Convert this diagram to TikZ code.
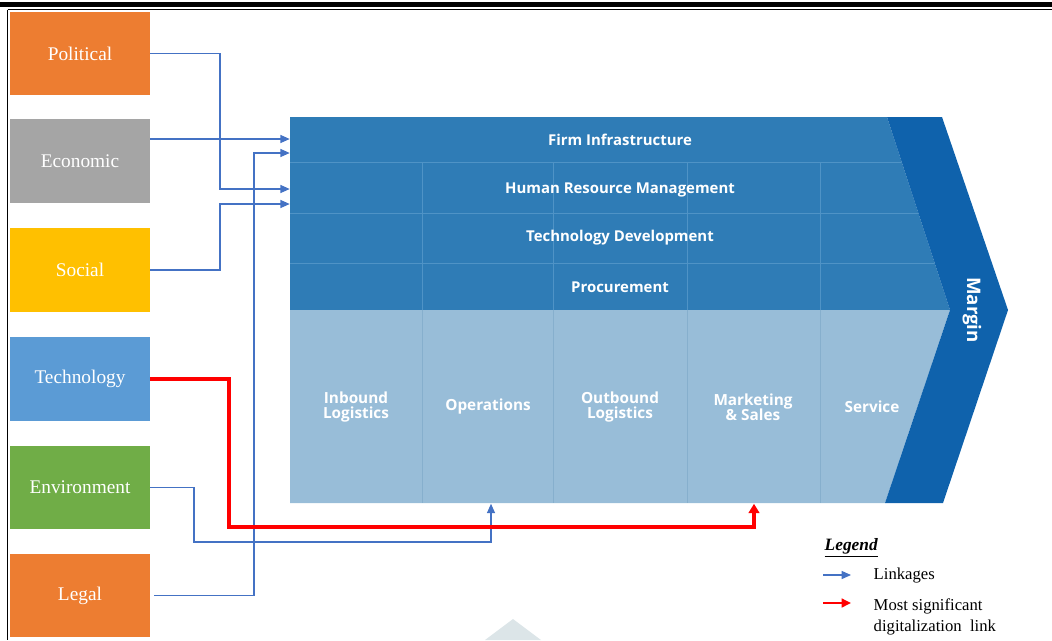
\documentclass[tikz,border=0pt]{standalone}
\usepackage{fontspec}
\setmainfont{Liberation Serif}
\newfontfamily\vcfont{Open Sans}
\usetikzlibrary{arrows.meta,calc}

\definecolor{pestOrange}{HTML}{ED7D31}
\definecolor{pestGray}{HTML}{A5A5A5}
\definecolor{pestYellow}{HTML}{FFC000}
\definecolor{pestBlue}{HTML}{5B9BD5}
\definecolor{pestGreen}{HTML}{70AD47}
\definecolor{linkBlue}{HTML}{4472C4}
\definecolor{supportBlue}{HTML}{2F7CB6}
\definecolor{supportLine}{HTML}{4F93C6}
\definecolor{primaryBlue}{HTML}{98BDD8}
\definecolor{primaryLine}{HTML}{86AFCD}
\definecolor{marginBlue}{HTML}{0F62AC}
\definecolor{paleMark}{HTML}{DCE5E8}

\tikzset{
  factor/.style={rectangle, draw=none, fill=#1, minimum width=105pt, minimum height=62.5pt,
    inner sep=0pt, text=white, font=\fontsize{14.5}{16}\selectfont},
  rowlabel/.style={text=white, font=\vcfont\bfseries\fontsize{11.2}{12}\selectfont},
  actlabel/.style={text=white, align=center, font=\vcfont\bfseries\fontsize{11.5}{11.5}\selectfont},
  link/.style={draw=linkBlue, line width=0.95pt, -{Triangle[length=7pt,width=6pt]}},
  keylink/.style={draw=red, line width=2.8pt, -{Triangle[length=7pt,width=8pt]}},
  legendtext/.style={anchor=west, font=\fontsize{12.5}{15.5}\selectfont, align=left},
}

\begin{document}
\begin{tikzpicture}[x=0.75pt, y=-0.75pt]
\useasboundingbox (0,0) rectangle (1052,640);

% page rules
\fill[black] (0,2) rectangle (1052,6.5);
\draw[black, line width=0.9pt] (7.5,9.5) -- (1052,9.5);
\draw[black, line width=1.1pt] (7.5,9.5) -- (7.5,640);

% PESTEL factors
\node[factor=pestOrange] (pol) at (80,53.5) {Political};
\node[factor=pestGray]   (eco) at (80,161)  {Economic};
\node[factor=pestYellow] (soc) at (80,270)  {Social};
\node[factor=pestBlue]   (tec) at (80,379)  {Technology};
\node[factor=pestGreen]  (env) at (80,487.5){Environment};
\node[factor=pestOrange] (leg) at (80,595.5){Legal};

% value chain: support activities
\fill[supportBlue] (290,117) -- (887,117) -- (950,310) -- (290,310) -- cycle;
% value chain: primary activities
\fill[primaryBlue] (290,310) -- (950,310) -- (885,503) -- (290,503) -- cycle;
% row and column rules
\draw[supportLine, line width=0.6pt]
  (290,162) -- (901.7,162)
  (290,213) -- (918.3,213)
  (290,263) -- (934.7,263);
\foreach \cx in {422,553,687,820}{
  \draw[supportLine, line width=0.6pt] (\cx,162) -- (\cx,310);
  \draw[primaryLine, line width=0.7pt] (\cx,310) -- (\cx,503);
}
% margin chevron
\fill[marginBlue] (887,117) -- (942,117) -- (1008,310) -- (943,503) -- (885,503) -- (950,310) -- cycle;
\node[rotate=-90, text=white, font=\vcfont\bfseries\fontsize{14}{14}\selectfont] (margin) at (972,310) {Margin};

% support rows
\node[rowlabel, minimum width=495pt, minimum height=33.75pt, inner sep=0pt] (fi)   at (620,140) {Firm Infrastructure};
\node[rowlabel, minimum width=495pt, minimum height=38.25pt, inner sep=0pt] (hrm)  at (620,189.5) {Human Resource Management};
\node[rowlabel, minimum width=495pt, minimum height=37.5pt, inner sep=0pt]  (td)   at (620,238)   {Technology Development};
\node[rowlabel, minimum width=495pt, minimum height=35pt, inner sep=0pt]    (proc) at (620,287) {Procurement};

% primary activities
\node[actlabel, minimum width=98pt, minimum height=144.75pt, inner sep=0pt] (il)  at (356,407) {Inbound\\Logistics};
\node[actlabel, minimum width=98pt, minimum height=144.75pt, inner sep=0pt] (ops) at (488,407) {Operations};
\node[actlabel, minimum width=98pt, minimum height=144.75pt, inner sep=0pt] (ol)  at (620,407) {Outbound\\Logistics};
\node[actlabel, minimum width=98pt, minimum height=144.75pt, inner sep=0pt] (ms)  at (753,407) {Marketing\\\& Sales};
\node[actlabel, minimum width=60pt, minimum height=144.75pt, inner sep=0pt] (sv)  at (872,407) {Service};

% linkages
\draw[link] (eco.east |- 0,139) -- ($(fi.west)+(0,-1)$);
\draw[link] (pol.east) -| (220,189) -- ($(hrm.west)+(0,-0.5)$);
\draw[link] (soc.east) -| (220,204) -- ($(hrm.west)+(0,14.5)$);
\draw[link] ($(leg.east)+(4,0)$) -| (254,153) -- ($(fi.west)+(0,13)$);
\draw[link] (env.east) -| (194,542) -| ($(ops.south)+(3,0)$);
\draw[keylink] (tec.east) -| (229,527) -| ($(ms.south)+(1,0)$);

% faint mark at the foot of the page
\fill[paleMark] (513,619) -- (541,640) -- (485,640) -- cycle;

% legend
\node[anchor=west, font=\bfseries\itshape\fontsize{13}{14}\selectfont] (lgd) at (820,548) {\underline{Legend}};
\coordinate (lb0) at (823,575);
\coordinate (lb1) at (851,575);
\coordinate (lr0) at (823,603);
\coordinate (lr1) at (851,603);
\draw[draw=linkBlue, line width=0.95pt, -{Triangle[length=7pt,width=6pt]}] (lb0) -- (lb1);
\draw[draw=red, line width=1.8pt, -{Triangle[length=7pt,width=6.5pt]}] (lr0) -- (lr1);
\node[legendtext] (lk) at (869,576) {Linkages};
\node[legendtext, anchor=north west] (ms2) at (869,594) {Most significant\\digitalization\ \ link};
\end{tikzpicture}
\end{document}
